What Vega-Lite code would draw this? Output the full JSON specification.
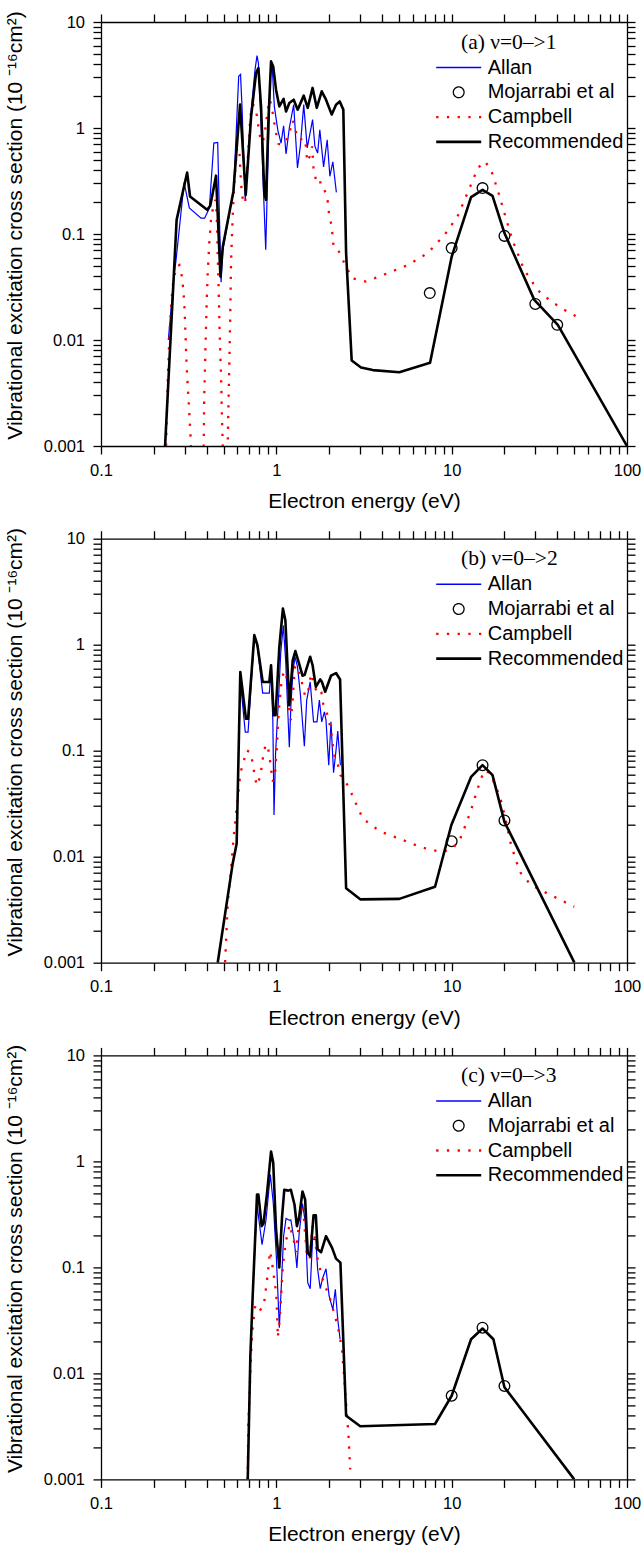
{
  "$schema": "https://vega.github.io/schema/vega-lite/v6.json",
  "background": "white",
  "padding": {"left": 4, "top": 10, "right": 0, "bottom": 0},
  "config": {
    "font": "Liberation Sans",
    "view": {"stroke": null},
    "axis": {"grid": false, "domainColor": "black", "domainWidth": 1.3, "tickColor": "black", "tickWidth": 1.3, "tickSize": 8, "labelColor": "black", "labelFont": "Liberation Sans", "labelFontSize": 16.5, "titleFont": "Liberation Sans", "titleFontSize": 21, "titleFontWeight": "normal", "titleColor": "black", "labelOverlap": false, "labelFlush": false, "labelBound": false},
    "legend": {"orient": "none", "legendX": 347.7, "legendY": 9.5, "padding": 0, "offset": 0, "titleFont": "Liberation Serif", "titleFontSize": 21.5, "titleFontWeight": "normal", "titleColor": "black", "titlePadding": 4.5, "titleLimit": 400, "labelFont": "Liberation Sans", "labelFontSize": 20, "labelColor": "black", "labelLimit": 400, "labelOffset": 19, "rowPadding": 4.8, "symbolSize": 2025}
  },
  "resolve": {"scale": {"color": "independent"}, "legend": {"color": "independent"}},
  "spacing": 92.7,
  "bounds": "flush",
  "datasets": {
    "a": [
      {"s":"Allan","E":0.242,"v":0.01},{"s":"Allan","E":0.262,"v":0.043},{"s":"Allan","E":0.268,"v":0.057},{"s":"Allan","E":0.298,"v":0.306},{"s":"Allan","E":0.319,"v":0.176},{"s":"Allan","E":0.372,"v":0.141},{"s":"Allan","E":0.39,"v":0.141},{"s":"Allan","E":0.415,"v":0.176},{"s":"Allan","E":0.44,"v":0.72},{"s":"Allan","E":0.463,"v":0.73},{"s":"Allan","E":0.473,"v":0.157},{"s":"Allan","E":0.484,"v":0.035},{"s":"Allan","E":0.495,"v":0.07},{"s":"Allan","E":0.571,"v":0.26},{"s":"Allan","E":0.61,"v":3.07},{"s":"Allan","E":0.625,"v":3.2},{"s":"Allan","E":0.637,"v":1.6},{"s":"Allan","E":0.665,"v":0.21},{"s":"Allan","E":0.717,"v":1.39},{"s":"Allan","E":0.756,"v":3.55},{"s":"Allan","E":0.776,"v":4.82},{"s":"Allan","E":0.79,"v":4.1},{"s":"Allan","E":0.818,"v":1.11},{"s":"Allan","E":0.847,"v":0.226},{"s":"Allan","E":0.87,"v":0.071},{"s":"Allan","E":0.893,"v":0.38},{"s":"Allan","E":0.924,"v":3.07},{"s":"Allan","E":0.945,"v":4.1},{"s":"Allan","E":0.974,"v":1.6},{"s":"Allan","E":1.02,"v":0.95},{"s":"Allan","E":1.064,"v":0.72},{"s":"Allan","E":1.1,"v":1.05},{"s":"Allan","E":1.136,"v":0.57},{"s":"Allan","E":1.186,"v":1.0},{"s":"Allan","E":1.256,"v":1.66},{"s":"Allan","E":1.32,"v":0.42},{"s":"Allan","E":1.37,"v":0.67},{"s":"Allan","E":1.433,"v":1.66},{"s":"Allan","E":1.5,"v":0.65},{"s":"Allan","E":1.61,"v":1.2},{"s":"Allan","E":1.66,"v":0.67},{"s":"Allan","E":1.72,"v":0.58},{"s":"Allan","E":1.77,"v":0.96},{"s":"Allan","E":1.86,"v":0.43},{"s":"Allan","E":1.95,"v":0.775},{"s":"Allan","E":2.02,"v":0.35},{"s":"Allan","E":2.1,"v":0.48},{"s":"Allan","E":2.2,"v":0.247},
      {"s":"Mojarrabi et al","E":7.5,"v":0.0277},{"s":"Mojarrabi et al","E":10,"v":0.0736},{"s":"Mojarrabi et al","E":15,"v":0.271},{"s":"Mojarrabi et al","E":20,"v":0.096},{"s":"Mojarrabi et al","E":30,"v":0.0219},{"s":"Mojarrabi et al","E":40,"v":0.0139},
      {"s":"Campbell","E":0.232,"v":0.0005},{"s":"Campbell","E":0.235,"v":0.001},{"s":"Campbell","E":0.24,"v":0.0039},{"s":"Campbell","E":0.245,"v":0.01},{"s":"Campbell","E":0.25,"v":0.019},{"s":"Campbell","E":0.256,"v":0.032},{"s":"Campbell","E":0.268,"v":0.049},{"s":"Campbell","E":0.28,"v":0.051},{"s":"Campbell","E":0.289,"v":0.04},{"s":"Campbell","E":0.295,"v":0.0297},{"s":"Campbell","E":0.3,"v":0.019},{"s":"Campbell","E":0.303,"v":0.0116},{"s":"Campbell","E":0.308,"v":0.0056},{"s":"Campbell","E":0.315,"v":0.0029},{"s":"Campbell","E":0.323,"v":0.0014},{"s":"Campbell","E":0.326,"v":0.001},{"s":"Campbell","E":0.33,"v":0.0005},{"s":"Campbell","E":0.38,"v":0.0005},{"s":"Campbell","E":0.385,"v":0.001},{"s":"Campbell","E":0.388,"v":0.0029},{"s":"Campbell","E":0.394,"v":0.0081},{"s":"Campbell","E":0.4,"v":0.0207},{"s":"Campbell","E":0.406,"v":0.043},{"s":"Campbell","E":0.415,"v":0.085},{"s":"Campbell","E":0.424,"v":0.136},{"s":"Campbell","E":0.437,"v":0.182},{"s":"Campbell","E":0.449,"v":0.21},{"s":"Campbell","E":0.457,"v":0.157},{"s":"Campbell","E":0.463,"v":0.066},{"s":"Campbell","E":0.469,"v":0.0297},{"s":"Campbell","E":0.475,"v":0.0116},{"s":"Campbell","E":0.484,"v":0.0045},{"s":"Campbell","E":0.49,"v":0.0018},{"s":"Campbell","E":0.495,"v":0.001},{"s":"Campbell","E":0.5,"v":0.0005},{"s":"Campbell","E":0.52,"v":0.0005},{"s":"Campbell","E":0.528,"v":0.001},{"s":"Campbell","E":0.532,"v":0.002},{"s":"Campbell","E":0.54,"v":0.0065},{"s":"Campbell","E":0.547,"v":0.0207},{"s":"Campbell","E":0.551,"v":0.049},{"s":"Campbell","E":0.559,"v":0.102},{"s":"Campbell","E":0.569,"v":0.21},{"s":"Campbell","E":0.581,"v":0.376},{"s":"Campbell","E":0.597,"v":0.65},{"s":"Campbell","E":0.615,"v":0.64},{"s":"Campbell","E":0.623,"v":0.4},{"s":"Campbell","E":0.635,"v":0.243},{"s":"Campbell","E":0.652,"v":0.193},{"s":"Campbell","E":0.665,"v":0.2},{"s":"Campbell","E":0.68,"v":0.376},{"s":"Campbell","E":0.696,"v":0.72},{"s":"Campbell","E":0.711,"v":1.29},{"s":"Campbell","E":0.733,"v":1.66},{"s":"Campbell","E":0.756,"v":1.6},{"s":"Campbell","E":0.776,"v":1.29},{"s":"Campbell","E":0.79,"v":1.03},{"s":"Campbell","E":0.81,"v":0.805},{"s":"Campbell","E":0.837,"v":0.73},{"s":"Campbell","E":0.862,"v":0.93},{"s":"Campbell","E":0.893,"v":1.49},{"s":"Campbell","E":0.917,"v":1.85},{"s":"Campbell","E":0.94,"v":1.6},{"s":"Campbell","E":0.974,"v":1.11},{"s":"Campbell","E":1.005,"v":0.83},{"s":"Campbell","E":1.027,"v":0.71},{"s":"Campbell","E":1.07,"v":0.69},{"s":"Campbell","E":1.136,"v":0.75},{"s":"Campbell","E":1.186,"v":0.9},{"s":"Campbell","E":1.24,"v":1.18},{"s":"Campbell","E":1.28,"v":0.99},{"s":"Campbell","E":1.32,"v":0.79},{"s":"Campbell","E":1.38,"v":0.78},{"s":"Campbell","E":1.46,"v":0.79},{"s":"Campbell","E":1.5,"v":0.48},{"s":"Campbell","E":1.55,"v":0.54},{"s":"Campbell","E":1.6,"v":0.67},{"s":"Campbell","E":1.63,"v":0.42},{"s":"Campbell","E":1.68,"v":0.325},{"s":"Campbell","E":1.76,"v":0.34},{"s":"Campbell","E":1.81,"v":0.27},{"s":"Campbell","E":1.88,"v":0.26},{"s":"Campbell","E":1.95,"v":0.226},{"s":"Campbell","E":2.0,"v":0.152},{"s":"Campbell","E":2.07,"v":0.118},{"s":"Campbell","E":2.12,"v":0.076},{"s":"Campbell","E":2.24,"v":0.072},{"s":"Campbell","E":2.5,"v":0.049},{"s":"Campbell","E":2.73,"v":0.038},{"s":"Campbell","E":3.25,"v":0.0356},{"s":"Campbell","E":4.32,"v":0.0427},{"s":"Campbell","E":5.62,"v":0.051},{"s":"Campbell","E":7.3,"v":0.066},{"s":"Campbell","E":9.1,"v":0.098},{"s":"Campbell","E":10.8,"v":0.146},{"s":"Campbell","E":12.3,"v":0.243},{"s":"Campbell","E":14.1,"v":0.419},{"s":"Campbell","E":15.5,"v":0.484},{"s":"Campbell","E":16.8,"v":0.4},{"s":"Campbell","E":18.3,"v":0.26},{"s":"Campbell","E":20,"v":0.157},{"s":"Campbell","E":22.2,"v":0.088},{"s":"Campbell","E":25.9,"v":0.046},{"s":"Campbell","E":30.9,"v":0.0296},{"s":"Campbell","E":36.8,"v":0.0232},{"s":"Campbell","E":43.8,"v":0.0193},{"s":"Campbell","E":51.3,"v":0.0167},
      {"s":"Recommended","E":0.232,"v":0.001},{"s":"Recommended","E":0.27,"v":0.136},{"s":"Recommended","E":0.31,"v":0.38},{"s":"Recommended","E":0.322,"v":0.226},{"s":"Recommended","E":0.403,"v":0.169},{"s":"Recommended","E":0.42,"v":0.185},{"s":"Recommended","E":0.453,"v":0.355},{"s":"Recommended","E":0.48,"v":0.0397},{"s":"Recommended","E":0.495,"v":0.076},{"s":"Recommended","E":0.569,"v":0.252},{"s":"Recommended","E":0.607,"v":1.03},{"s":"Recommended","E":0.621,"v":1.66},{"s":"Recommended","E":0.669,"v":0.234},{"s":"Recommended","E":0.718,"v":1.29},{"s":"Recommended","E":0.766,"v":3.3},{"s":"Recommended","E":0.79,"v":3.68},{"s":"Recommended","E":0.818,"v":1.6},{"s":"Recommended","E":0.854,"v":0.243},{"s":"Recommended","E":0.873,"v":0.21},{"s":"Recommended","E":0.9,"v":1.11},{"s":"Recommended","E":0.933,"v":4.25},{"s":"Recommended","E":0.96,"v":3.8},{"s":"Recommended","E":0.996,"v":2.3},{"s":"Recommended","E":1.04,"v":1.6},{"s":"Recommended","E":1.1,"v":1.88},{"s":"Recommended","E":1.136,"v":1.43},{"s":"Recommended","E":1.186,"v":1.72},{"s":"Recommended","E":1.256,"v":1.85},{"s":"Recommended","E":1.324,"v":1.49},{"s":"Recommended","E":1.433,"v":2.02},{"s":"Recommended","E":1.51,"v":1.55},{"s":"Recommended","E":1.61,"v":2.39},{"s":"Recommended","E":1.7,"v":1.55},{"s":"Recommended","E":1.815,"v":2.22},{"s":"Recommended","E":1.92,"v":1.85},{"s":"Recommended","E":2.07,"v":1.34},{"s":"Recommended","E":2.19,"v":1.66},{"s":"Recommended","E":2.3,"v":1.78},{"s":"Recommended","E":2.41,"v":1.49},{"s":"Recommended","E":2.5,"v":0.066},{"s":"Recommended","E":2.69,"v":0.0064},{"s":"Recommended","E":3.04,"v":0.0055},{"s":"Recommended","E":3.55,"v":0.0052},{"s":"Recommended","E":5.03,"v":0.00497},{"s":"Recommended","E":7.53,"v":0.0061},{"s":"Recommended","E":10,"v":0.061},{"s":"Recommended","E":12.9,"v":0.223},{"s":"Recommended","E":15,"v":0.261},{"s":"Recommended","E":17.1,"v":0.229},{"s":"Recommended","E":20,"v":0.102},{"s":"Recommended","E":29.6,"v":0.0239},{"s":"Recommended","E":40.3,"v":0.0139},{"s":"Recommended","E":100,"v":0.001}
    ],
    "b": [
      {"s":"Allan","E":0.62,"v":0.5},{"s":"Allan","E":0.665,"v":0.15},{"s":"Allan","E":0.69,"v":0.15},{"s":"Allan","E":0.749,"v":1.2},{"s":"Allan","E":0.78,"v":0.95},{"s":"Allan","E":0.836,"v":0.35},{"s":"Allan","E":0.912,"v":0.35},{"s":"Allan","E":0.933,"v":0.57},{"s":"Allan","E":0.955,"v":0.194},{"s":"Allan","E":0.97,"v":0.0247},{"s":"Allan","E":0.99,"v":0.094},{"s":"Allan","E":1.03,"v":0.32},{"s":"Allan","E":1.06,"v":0.85},{"s":"Allan","E":1.096,"v":1.52},{"s":"Allan","E":1.13,"v":0.71},{"s":"Allan","E":1.186,"v":0.108},{"s":"Allan","E":1.21,"v":0.259},{"s":"Allan","E":1.24,"v":0.53},{"s":"Allan","E":1.278,"v":0.77},{"s":"Allan","E":1.32,"v":0.62},{"s":"Allan","E":1.37,"v":0.346},{"s":"Allan","E":1.445,"v":0.11},{"s":"Allan","E":1.49,"v":0.3},{"s":"Allan","E":1.56,"v":0.445},{"s":"Allan","E":1.63,"v":0.187},{"s":"Allan","E":1.706,"v":0.187},{"s":"Allan","E":1.76,"v":0.3},{"s":"Allan","E":1.815,"v":0.187},{"s":"Allan","E":1.88,"v":0.232},{"s":"Allan","E":1.92,"v":0.194},{"s":"Allan","E":1.99,"v":0.073},{"s":"Allan","E":2.05,"v":0.187},{"s":"Allan","E":2.12,"v":0.062},{"s":"Allan","E":2.19,"v":0.101},{"s":"Allan","E":2.24,"v":0.153},{"s":"Allan","E":2.32,"v":0.073},
      {"s":"Mojarrabi et al","E":10,"v":0.014},{"s":"Mojarrabi et al","E":15,"v":0.073},{"s":"Mojarrabi et al","E":20,"v":0.022},
      {"s":"Campbell","E":0.505,"v":0.0008},{"s":"Campbell","E":0.51,"v":0.001},{"s":"Campbell","E":0.528,"v":0.0036},{"s":"Campbell","E":0.551,"v":0.0075},{"s":"Campbell","E":0.571,"v":0.0154},{"s":"Campbell","E":0.589,"v":0.0256},{"s":"Campbell","E":0.607,"v":0.0395},{"s":"Campbell","E":0.623,"v":0.061},{"s":"Campbell","E":0.652,"v":0.08},{"s":"Campbell","E":0.678,"v":0.101},{"s":"Campbell","E":0.711,"v":0.096},{"s":"Campbell","E":0.733,"v":0.077},{"s":"Campbell","E":0.75,"v":0.06},{"s":"Campbell","E":0.773,"v":0.047},{"s":"Campbell","E":0.81,"v":0.057},{"s":"Campbell","E":0.843,"v":0.091},{"s":"Campbell","E":0.87,"v":0.115},{"s":"Campbell","E":0.9,"v":0.103},{"s":"Campbell","E":0.92,"v":0.081},{"s":"Campbell","E":0.953,"v":0.051},{"s":"Campbell","E":0.983,"v":0.061},{"s":"Campbell","E":1.005,"v":0.101},{"s":"Campbell","E":1.03,"v":0.223},{"s":"Campbell","E":1.064,"v":0.414},{"s":"Campbell","E":1.09,"v":0.52},{"s":"Campbell","E":1.126,"v":0.565},{"s":"Campbell","E":1.16,"v":0.43},{"s":"Campbell","E":1.18,"v":0.259},{"s":"Campbell","E":1.21,"v":0.194},{"s":"Campbell","E":1.24,"v":0.31},{"s":"Campbell","E":1.27,"v":0.57},{"s":"Campbell","E":1.284,"v":0.64},{"s":"Campbell","E":1.37,"v":0.51},{"s":"Campbell","E":1.41,"v":0.414},{"s":"Campbell","E":1.46,"v":0.327},{"s":"Campbell","E":1.51,"v":0.346},{"s":"Campbell","E":1.58,"v":0.533},{"s":"Campbell","E":1.65,"v":0.414},{"s":"Campbell","E":1.72,"v":0.334},{"s":"Campbell","E":1.81,"v":0.35},{"s":"Campbell","E":1.85,"v":0.278},{"s":"Campbell","E":1.88,"v":0.26},{"s":"Campbell","E":1.96,"v":0.216},{"s":"Campbell","E":2.05,"v":0.156},{"s":"Campbell","E":2.12,"v":0.101},{"s":"Campbell","E":2.17,"v":0.081},{"s":"Campbell","E":2.24,"v":0.075},{"s":"Campbell","E":2.32,"v":0.0587},{"s":"Campbell","E":2.39,"v":0.0566},{"s":"Campbell","E":2.61,"v":0.044},{"s":"Campbell","E":2.79,"v":0.034},{"s":"Campbell","E":3.11,"v":0.023},{"s":"Campbell","E":3.47,"v":0.0199},{"s":"Campbell","E":3.95,"v":0.0172},{"s":"Campbell","E":5.14,"v":0.0146},{"s":"Campbell","E":5.85,"v":0.0134},{"s":"Campbell","E":6.7,"v":0.0123},{"s":"Campbell","E":7.63,"v":0.0116},{"s":"Campbell","E":8.89,"v":0.0111},{"s":"Campbell","E":10.1,"v":0.0119},{"s":"Campbell","E":11.1,"v":0.0143},{"s":"Campbell","E":11.8,"v":0.0185},{"s":"Campbell","E":12.9,"v":0.0275},{"s":"Campbell","E":13.8,"v":0.0395},{"s":"Campbell","E":14.7,"v":0.0547},{"s":"Campbell","E":15.5,"v":0.0655},{"s":"Campbell","E":16.5,"v":0.061},{"s":"Campbell","E":17.9,"v":0.0456},{"s":"Campbell","E":19.1,"v":0.034},{"s":"Campbell","E":20.3,"v":0.0226},{"s":"Campbell","E":21.6,"v":0.0138},{"s":"Campbell","E":23.2,"v":0.0093},{"s":"Campbell","E":24.8,"v":0.007},{"s":"Campbell","E":28.4,"v":0.0054},{"s":"Campbell","E":33.6,"v":0.00467},{"s":"Campbell","E":41.9,"v":0.0039},{"s":"Campbell","E":50,"v":0.00337},
      {"s":"Recommended","E":0.463,"v":0.001},{"s":"Recommended","E":0.564,"v":0.00865},{"s":"Recommended","E":0.594,"v":0.0133},{"s":"Recommended","E":0.623,"v":0.553},{"s":"Recommended","E":0.671,"v":0.2},{"s":"Recommended","E":0.69,"v":0.2},{"s":"Recommended","E":0.749,"v":1.23},{"s":"Recommended","E":0.78,"v":0.99},{"s":"Recommended","E":0.836,"v":0.445},{"s":"Recommended","E":0.912,"v":0.445},{"s":"Recommended","E":0.933,"v":0.64},{"s":"Recommended","E":0.966,"v":0.216},{"s":"Recommended","E":0.99,"v":0.216},{"s":"Recommended","E":1.04,"v":0.95},{"s":"Recommended","E":1.09,"v":2.19},{"s":"Recommended","E":1.126,"v":1.7},{"s":"Recommended","E":1.186,"v":0.268},{"s":"Recommended","E":1.24,"v":0.71},{"s":"Recommended","E":1.284,"v":0.87},{"s":"Recommended","E":1.35,"v":0.66},{"s":"Recommended","E":1.41,"v":0.51},{"s":"Recommended","E":1.45,"v":0.52},{"s":"Recommended","E":1.56,"v":0.77},{"s":"Recommended","E":1.61,"v":0.64},{"s":"Recommended","E":1.68,"v":0.4},{"s":"Recommended","E":1.78,"v":0.47},{"s":"Recommended","E":1.82,"v":0.445},{"s":"Recommended","E":1.9,"v":0.36},{"s":"Recommended","E":2.05,"v":0.51},{"s":"Recommended","E":2.19,"v":0.54},{"s":"Recommended","E":2.31,"v":0.47},{"s":"Recommended","E":2.5,"v":0.00503},{"s":"Recommended","E":3.01,"v":0.00396},{"s":"Recommended","E":5.03,"v":0.004},{"s":"Recommended","E":8.04,"v":0.00521},{"s":"Recommended","E":9.96,"v":0.0199},{"s":"Recommended","E":12.9,"v":0.0566},{"s":"Recommended","E":15,"v":0.073},{"s":"Recommended","E":17.1,"v":0.0588},{"s":"Recommended","E":20,"v":0.0213},{"s":"Recommended","E":50.1,"v":0.001}
    ],
    "c": [
      {"s":"Allan","E":0.74,"v":0.08},{"s":"Allan","E":0.776,"v":0.39},{"s":"Allan","E":0.829,"v":0.164},{"s":"Allan","E":0.873,"v":0.28},{"s":"Allan","E":0.924,"v":0.75},{"s":"Allan","E":0.96,"v":0.41},{"s":"Allan","E":1.0,"v":0.128},{"s":"Allan","E":1.04,"v":0.027},{"s":"Allan","E":1.07,"v":0.072},{"s":"Allan","E":1.1,"v":0.197},{"s":"Allan","E":1.136,"v":0.29},{"s":"Allan","E":1.186,"v":0.279},{"s":"Allan","E":1.21,"v":0.28},{"s":"Allan","E":1.27,"v":0.171},{"s":"Allan","E":1.31,"v":0.099},{"s":"Allan","E":1.35,"v":0.212},{"s":"Allan","E":1.41,"v":0.4},{"s":"Allan","E":1.46,"v":0.273},{"s":"Allan","E":1.51,"v":0.0718},{"s":"Allan","E":1.56,"v":0.063},{"s":"Allan","E":1.61,"v":0.186},{"s":"Allan","E":1.68,"v":0.183},{"s":"Allan","E":1.72,"v":0.096},{"s":"Allan","E":1.78,"v":0.063},{"s":"Allan","E":1.84,"v":0.08},{"s":"Allan","E":1.92,"v":0.097},{"s":"Allan","E":2.0,"v":0.054},{"s":"Allan","E":2.1,"v":0.04},{"s":"Allan","E":2.17,"v":0.062},{"s":"Allan","E":2.24,"v":0.0324},{"s":"Allan","E":2.31,"v":0.021},
      {"s":"Mojarrabi et al","E":10,"v":0.00615},{"s":"Mojarrabi et al","E":15,"v":0.027},{"s":"Mojarrabi et al","E":20,"v":0.0076},
      {"s":"Campbell","E":0.687,"v":0.001},{"s":"Campbell","E":0.692,"v":0.0032},{"s":"Campbell","E":0.705,"v":0.0071},{"s":"Campbell","E":0.717,"v":0.0146},{"s":"Campbell","E":0.727,"v":0.0226},{"s":"Campbell","E":0.736,"v":0.029},{"s":"Campbell","E":0.749,"v":0.036},{"s":"Campbell","E":0.759,"v":0.0449},{"s":"Campbell","E":0.81,"v":0.04},{"s":"Campbell","E":0.847,"v":0.0427},{"s":"Campbell","E":0.862,"v":0.054},{"s":"Campbell","E":0.893,"v":0.086},{"s":"Campbell","E":0.92,"v":0.142},{"s":"Campbell","E":0.94,"v":0.119},{"s":"Campbell","E":0.961,"v":0.09},{"s":"Campbell","E":1.0,"v":0.0557},{"s":"Campbell","E":1.02,"v":0.0218},{"s":"Campbell","E":1.04,"v":0.03},{"s":"Campbell","E":1.054,"v":0.039},{"s":"Campbell","E":1.07,"v":0.064},{"s":"Campbell","E":1.09,"v":0.103},{"s":"Campbell","E":1.13,"v":0.171},{"s":"Campbell","E":1.19,"v":0.254},{"s":"Campbell","E":1.256,"v":0.18},{"s":"Campbell","E":1.295,"v":0.139},{"s":"Campbell","E":1.36,"v":0.304},{"s":"Campbell","E":1.396,"v":0.39},{"s":"Campbell","E":1.42,"v":0.39},{"s":"Campbell","E":1.445,"v":0.254},{"s":"Campbell","E":1.5,"v":0.121},{"s":"Campbell","E":1.55,"v":0.121},{"s":"Campbell","E":1.61,"v":0.245},{"s":"Campbell","E":1.65,"v":0.197},{"s":"Campbell","E":1.72,"v":0.119},{"s":"Campbell","E":1.84,"v":0.077},{"s":"Campbell","E":2.03,"v":0.05},{"s":"Campbell","E":2.24,"v":0.028},{"s":"Campbell","E":2.37,"v":0.0169},{"s":"Campbell","E":2.45,"v":0.0082},{"s":"Campbell","E":2.52,"v":0.0043},{"s":"Campbell","E":2.58,"v":0.0026},{"s":"Campbell","E":2.62,"v":0.00156},{"s":"Campbell","E":2.64,"v":0.00124},
      {"s":"Recommended","E":0.687,"v":0.001},{"s":"Recommended","E":0.711,"v":0.0146},{"s":"Recommended","E":0.733,"v":0.0537},{"s":"Recommended","E":0.776,"v":0.486},{"s":"Recommended","E":0.79,"v":0.486},{"s":"Recommended","E":0.825,"v":0.245},{"s":"Recommended","E":0.845,"v":0.26},{"s":"Recommended","E":0.885,"v":0.5},{"s":"Recommended","E":0.933,"v":1.24},{"s":"Recommended","E":0.96,"v":0.97},{"s":"Recommended","E":0.996,"v":0.228},{"s":"Recommended","E":1.04,"v":0.1},{"s":"Recommended","E":1.078,"v":0.3},{"s":"Recommended","E":1.11,"v":0.54},{"s":"Recommended","E":1.17,"v":0.53},{"s":"Recommended","E":1.21,"v":0.54},{"s":"Recommended","E":1.27,"v":0.39},{"s":"Recommended","E":1.31,"v":0.245},{"s":"Recommended","E":1.35,"v":0.3},{"s":"Recommended","E":1.41,"v":0.52},{"s":"Recommended","E":1.46,"v":0.436},{"s":"Recommended","E":1.51,"v":0.137},{"s":"Recommended","E":1.56,"v":0.128},{"s":"Recommended","E":1.63,"v":0.31},{"s":"Recommended","E":1.68,"v":0.31},{"s":"Recommended","E":1.72,"v":0.148},{"s":"Recommended","E":1.8,"v":0.139},{"s":"Recommended","E":1.92,"v":0.197},{"s":"Recommended","E":2.08,"v":0.153},{"s":"Recommended","E":2.19,"v":0.121},{"s":"Recommended","E":2.32,"v":0.111},{"s":"Recommended","E":2.5,"v":0.00399},{"s":"Recommended","E":3.01,"v":0.00317},{"s":"Recommended","E":8.04,"v":0.00333},{"s":"Recommended","E":10,"v":0.00615},{"s":"Recommended","E":12.9,"v":0.021},{"s":"Recommended","E":15,"v":0.0265},{"s":"Recommended","E":17.3,"v":0.021},{"s":"Recommended","E":20,"v":0.0074},{"s":"Recommended","E":50,"v":0.001}
    ]
  },
  "vconcat": [
    {
      "width": 526, "height": 424,
      "data": {"name": "a"},
      "resolve": {"axis": {"x": "independent", "y": "independent"}},
      "layer": [
        {
          "transform": [{"filter": "datum.s === 'Allan'"}],
          "mark": {"type": "line", "strokeWidth": 1.2, "clip": true},
          "encoding": {
            "x": {"field": "E", "type": "quantitative", "scale": {"type": "log", "domain": [0.1, 100], "nice": false},
              "axis": {"orient": "bottom", "title": "Electron energy (eV)", "titleY": 61.3, "titleBaseline": "alphabetic", "labelPadding": 8,
                "values": [0.1,0.2,0.3,0.4,0.5,0.6,0.7,0.8,0.9,1,2,3,4,5,6,7,8,9,10,20,30,40,50,60,70,80,90,100],
                "labelExpr": "abs(log(datum.value)/LN10 - round(log(datum.value)/LN10)) < 0.000001 ? format(datum.value, '~g') : ''",
                "encode": {"ticks": {"update": {"y2": {"signal": "abs(log(datum.value)/LN10 - round(log(datum.value)/LN10)) < 0.000001 ? 8 : 4.5"}}}}}},
            "y": {"field": "v", "type": "quantitative", "scale": {"type": "log", "domain": [0.001, 10], "nice": false},
              "axis": {"orient": "left", "title": "Vibrational excitation cross section (10 ⁻¹⁶cm²)", "titleX": -79.5, "titleY": 203, "titleBaseline": "alphabetic", "titleAngle": 270, "labelPadding": 8.5,
                "values": [0.001,0.002,0.003,0.004,0.005,0.006,0.007,0.008,0.009,0.01,0.02,0.03,0.04,0.05,0.06,0.07,0.08,0.09,0.1,0.2,0.3,0.4,0.5,0.6,0.7,0.8,0.9,1,2,3,4,5,6,7,8,9,10],
                "labelExpr": "abs(log(datum.value)/LN10 - round(log(datum.value)/LN10)) < 0.000001 ? format(datum.value, '~g') : ''",
                "encode": {"ticks": {"update": {"x2": {"signal": "abs(log(datum.value)/LN10 - round(log(datum.value)/LN10)) < 0.000001 ? -8 : -4.5"}}}}}},
            "color": {"field": "s", "type": "nominal",
              "scale": {"domain": ["Allan", "Mojarrabi et al", "Campbell", "Recommended"], "range": ["#0000ff", "#000000", "#ff0000", "#000000"]},
              "legend": {"title": "(a) ν=0–>1",
                "encode": {
                  "title": {"update": {"dx": {"value": 12.3}}},
                  "symbols": {"update": {
                  "shape": {"signal": "datum.value === 'Mojarrabi et al' ? 'circle' : 'stroke'"},
                  "size": {"signal": "datum.value === 'Mojarrabi et al' ? 115 : 2025"},
                  "stroke": {"signal": "datum.value === 'Allan' ? '#0000ff' : datum.value === 'Campbell' ? '#ff0000' : '#000000'"},
                  "strokeWidth": {"signal": "datum.value === 'Recommended' ? 2.6 : datum.value === 'Campbell' ? 2.3 : datum.value === 'Allan' ? 1.5 : 1.3"},
                  "strokeDash": {"signal": "datum.value === 'Campbell' ? [2.3, 8.4] : [1, 0]"},
                  "fill": {"value": "transparent"},
                  "opacity": {"value": 1}}}}}}
          }
        },
        {
          "transform": [{"filter": "datum.s === 'Mojarrabi et al'"}],
          "mark": {"type": "point", "filled": false, "size": 115, "strokeWidth": 1.3, "opacity": 1},
          "encoding": {
            "x": {"field": "E", "type": "quantitative", "axis": {"orient": "top", "labels": false, "title": null, "values": [0.1,0.2,0.3,0.4,0.5,0.6,0.7,0.8,0.9,1,2,3,4,5,6,7,8,9,10,20,30,40,50,60,70,80,90,100], "encode": {"ticks": {"update": {"y2": {"signal": "abs(log(datum.value)/LN10 - round(log(datum.value)/LN10)) < 0.000001 ? 8 : 4.5"}}}}}},
            "y": {"field": "v", "type": "quantitative", "axis": {"orient": "right", "labels": false, "title": null, "values": [0.001,0.002,0.003,0.004,0.005,0.006,0.007,0.008,0.009,0.01,0.02,0.03,0.04,0.05,0.06,0.07,0.08,0.09,0.1,0.2,0.3,0.4,0.5,0.6,0.7,0.8,0.9,1,2,3,4,5,6,7,8,9,10], "encode": {"ticks": {"update": {"x2": {"signal": "abs(log(datum.value)/LN10 - round(log(datum.value)/LN10)) < 0.000001 ? -8 : -4.5"}}}}}},
            "color": {"field": "s", "type": "nominal"}
          }
        },
        {
          "transform": [{"filter": "datum.s === 'Campbell'"}],
          "mark": {"type": "line", "strokeWidth": 2.3, "strokeDash": [2.3, 8.4], "clip": true},
          "encoding": {
            "x": {"field": "E", "type": "quantitative", "axis": null},
            "y": {"field": "v", "type": "quantitative", "axis": null},
            "color": {"field": "s", "type": "nominal"}
          }
        },
        {
          "transform": [{"filter": "datum.s === 'Recommended'"}],
          "mark": {"type": "line", "strokeWidth": 2.6, "clip": true, "strokeJoin": "round"},
          "encoding": {
            "x": {"field": "E", "type": "quantitative", "axis": null},
            "y": {"field": "v", "type": "quantitative", "axis": null},
            "color": {"field": "s", "type": "nominal"}
          }
        }
      ]
    },
    {
      "width": 526, "height": 424,
      "data": {"name": "b"},
      "resolve": {"axis": {"x": "independent", "y": "independent"}},
      "layer": [
        {
          "transform": [{"filter": "datum.s === 'Allan'"}],
          "mark": {"type": "line", "strokeWidth": 1.2, "clip": true},
          "encoding": {
            "x": {"field": "E", "type": "quantitative", "scale": {"type": "log", "domain": [0.1, 100], "nice": false},
              "axis": {"orient": "bottom", "title": "Electron energy (eV)", "titleY": 61.3, "titleBaseline": "alphabetic", "labelPadding": 8,
                "values": [0.1,0.2,0.3,0.4,0.5,0.6,0.7,0.8,0.9,1,2,3,4,5,6,7,8,9,10,20,30,40,50,60,70,80,90,100],
                "labelExpr": "abs(log(datum.value)/LN10 - round(log(datum.value)/LN10)) < 0.000001 ? format(datum.value, '~g') : ''",
                "encode": {"ticks": {"update": {"y2": {"signal": "abs(log(datum.value)/LN10 - round(log(datum.value)/LN10)) < 0.000001 ? 8 : 4.5"}}}}}},
            "y": {"field": "v", "type": "quantitative", "scale": {"type": "log", "domain": [0.001, 10], "nice": false},
              "axis": {"orient": "left", "title": "Vibrational excitation cross section (10 ⁻¹⁶cm²)", "titleX": -79.5, "titleY": 203, "titleBaseline": "alphabetic", "titleAngle": 270, "labelPadding": 8.5,
                "values": [0.001,0.002,0.003,0.004,0.005,0.006,0.007,0.008,0.009,0.01,0.02,0.03,0.04,0.05,0.06,0.07,0.08,0.09,0.1,0.2,0.3,0.4,0.5,0.6,0.7,0.8,0.9,1,2,3,4,5,6,7,8,9,10],
                "labelExpr": "abs(log(datum.value)/LN10 - round(log(datum.value)/LN10)) < 0.000001 ? format(datum.value, '~g') : ''",
                "encode": {"ticks": {"update": {"x2": {"signal": "abs(log(datum.value)/LN10 - round(log(datum.value)/LN10)) < 0.000001 ? -8 : -4.5"}}}}}},
            "color": {"field": "s", "type": "nominal",
              "scale": {"domain": ["Allan", "Mojarrabi et al", "Campbell", "Recommended"], "range": ["#0000ff", "#000000", "#ff0000", "#000000"]},
              "legend": {"title": "(b) ν=0–>2",
                "encode": {
                  "title": {"update": {"dx": {"value": 12.3}}},
                  "symbols": {"update": {
                  "shape": {"signal": "datum.value === 'Mojarrabi et al' ? 'circle' : 'stroke'"},
                  "size": {"signal": "datum.value === 'Mojarrabi et al' ? 115 : 2025"},
                  "stroke": {"signal": "datum.value === 'Allan' ? '#0000ff' : datum.value === 'Campbell' ? '#ff0000' : '#000000'"},
                  "strokeWidth": {"signal": "datum.value === 'Recommended' ? 2.6 : datum.value === 'Campbell' ? 2.3 : datum.value === 'Allan' ? 1.5 : 1.3"},
                  "strokeDash": {"signal": "datum.value === 'Campbell' ? [2.3, 8.4] : [1, 0]"},
                  "fill": {"value": "transparent"},
                  "opacity": {"value": 1}}}}}}
          }
        },
        {
          "transform": [{"filter": "datum.s === 'Mojarrabi et al'"}],
          "mark": {"type": "point", "filled": false, "size": 115, "strokeWidth": 1.3, "opacity": 1},
          "encoding": {
            "x": {"field": "E", "type": "quantitative", "axis": {"orient": "top", "labels": false, "title": null, "values": [0.1,0.2,0.3,0.4,0.5,0.6,0.7,0.8,0.9,1,2,3,4,5,6,7,8,9,10,20,30,40,50,60,70,80,90,100], "encode": {"ticks": {"update": {"y2": {"signal": "abs(log(datum.value)/LN10 - round(log(datum.value)/LN10)) < 0.000001 ? 8 : 4.5"}}}}}},
            "y": {"field": "v", "type": "quantitative", "axis": {"orient": "right", "labels": false, "title": null, "values": [0.001,0.002,0.003,0.004,0.005,0.006,0.007,0.008,0.009,0.01,0.02,0.03,0.04,0.05,0.06,0.07,0.08,0.09,0.1,0.2,0.3,0.4,0.5,0.6,0.7,0.8,0.9,1,2,3,4,5,6,7,8,9,10], "encode": {"ticks": {"update": {"x2": {"signal": "abs(log(datum.value)/LN10 - round(log(datum.value)/LN10)) < 0.000001 ? -8 : -4.5"}}}}}},
            "color": {"field": "s", "type": "nominal"}
          }
        },
        {
          "transform": [{"filter": "datum.s === 'Campbell'"}],
          "mark": {"type": "line", "strokeWidth": 2.3, "strokeDash": [2.3, 8.4], "clip": true},
          "encoding": {
            "x": {"field": "E", "type": "quantitative", "axis": null},
            "y": {"field": "v", "type": "quantitative", "axis": null},
            "color": {"field": "s", "type": "nominal"}
          }
        },
        {
          "transform": [{"filter": "datum.s === 'Recommended'"}],
          "mark": {"type": "line", "strokeWidth": 2.6, "clip": true, "strokeJoin": "round"},
          "encoding": {
            "x": {"field": "E", "type": "quantitative", "axis": null},
            "y": {"field": "v", "type": "quantitative", "axis": null},
            "color": {"field": "s", "type": "nominal"}
          }
        }
      ]
    },
    {
      "width": 526, "height": 424,
      "data": {"name": "c"},
      "resolve": {"axis": {"x": "independent", "y": "independent"}},
      "layer": [
        {
          "transform": [{"filter": "datum.s === 'Allan'"}],
          "mark": {"type": "line", "strokeWidth": 1.2, "clip": true},
          "encoding": {
            "x": {"field": "E", "type": "quantitative", "scale": {"type": "log", "domain": [0.1, 100], "nice": false},
              "axis": {"orient": "bottom", "title": "Electron energy (eV)", "titleY": 61.3, "titleBaseline": "alphabetic", "labelPadding": 8,
                "values": [0.1,0.2,0.3,0.4,0.5,0.6,0.7,0.8,0.9,1,2,3,4,5,6,7,8,9,10,20,30,40,50,60,70,80,90,100],
                "labelExpr": "abs(log(datum.value)/LN10 - round(log(datum.value)/LN10)) < 0.000001 ? format(datum.value, '~g') : ''",
                "encode": {"ticks": {"update": {"y2": {"signal": "abs(log(datum.value)/LN10 - round(log(datum.value)/LN10)) < 0.000001 ? 8 : 4.5"}}}}}},
            "y": {"field": "v", "type": "quantitative", "scale": {"type": "log", "domain": [0.001, 10], "nice": false},
              "axis": {"orient": "left", "title": "Vibrational excitation cross section (10 ⁻¹⁶cm²)", "titleX": -79.5, "titleY": 203, "titleBaseline": "alphabetic", "titleAngle": 270, "labelPadding": 8.5,
                "values": [0.001,0.002,0.003,0.004,0.005,0.006,0.007,0.008,0.009,0.01,0.02,0.03,0.04,0.05,0.06,0.07,0.08,0.09,0.1,0.2,0.3,0.4,0.5,0.6,0.7,0.8,0.9,1,2,3,4,5,6,7,8,9,10],
                "labelExpr": "abs(log(datum.value)/LN10 - round(log(datum.value)/LN10)) < 0.000001 ? format(datum.value, '~g') : ''",
                "encode": {"ticks": {"update": {"x2": {"signal": "abs(log(datum.value)/LN10 - round(log(datum.value)/LN10)) < 0.000001 ? -8 : -4.5"}}}}}},
            "color": {"field": "s", "type": "nominal",
              "scale": {"domain": ["Allan", "Mojarrabi et al", "Campbell", "Recommended"], "range": ["#0000ff", "#000000", "#ff0000", "#000000"]},
              "legend": {"title": "(c) ν=0–>3",
                "encode": {
                  "title": {"update": {"dx": {"value": 12.3}}},
                  "symbols": {"update": {
                  "shape": {"signal": "datum.value === 'Mojarrabi et al' ? 'circle' : 'stroke'"},
                  "size": {"signal": "datum.value === 'Mojarrabi et al' ? 115 : 2025"},
                  "stroke": {"signal": "datum.value === 'Allan' ? '#0000ff' : datum.value === 'Campbell' ? '#ff0000' : '#000000'"},
                  "strokeWidth": {"signal": "datum.value === 'Recommended' ? 2.6 : datum.value === 'Campbell' ? 2.3 : datum.value === 'Allan' ? 1.5 : 1.3"},
                  "strokeDash": {"signal": "datum.value === 'Campbell' ? [2.3, 8.4] : [1, 0]"},
                  "fill": {"value": "transparent"},
                  "opacity": {"value": 1}}}}}}
          }
        },
        {
          "transform": [{"filter": "datum.s === 'Mojarrabi et al'"}],
          "mark": {"type": "point", "filled": false, "size": 115, "strokeWidth": 1.3, "opacity": 1},
          "encoding": {
            "x": {"field": "E", "type": "quantitative", "axis": {"orient": "top", "labels": false, "title": null, "values": [0.1,0.2,0.3,0.4,0.5,0.6,0.7,0.8,0.9,1,2,3,4,5,6,7,8,9,10,20,30,40,50,60,70,80,90,100], "encode": {"ticks": {"update": {"y2": {"signal": "abs(log(datum.value)/LN10 - round(log(datum.value)/LN10)) < 0.000001 ? 8 : 4.5"}}}}}},
            "y": {"field": "v", "type": "quantitative", "axis": {"orient": "right", "labels": false, "title": null, "values": [0.001,0.002,0.003,0.004,0.005,0.006,0.007,0.008,0.009,0.01,0.02,0.03,0.04,0.05,0.06,0.07,0.08,0.09,0.1,0.2,0.3,0.4,0.5,0.6,0.7,0.8,0.9,1,2,3,4,5,6,7,8,9,10], "encode": {"ticks": {"update": {"x2": {"signal": "abs(log(datum.value)/LN10 - round(log(datum.value)/LN10)) < 0.000001 ? -8 : -4.5"}}}}}},
            "color": {"field": "s", "type": "nominal"}
          }
        },
        {
          "transform": [{"filter": "datum.s === 'Campbell'"}],
          "mark": {"type": "line", "strokeWidth": 2.3, "strokeDash": [2.3, 8.4], "clip": true},
          "encoding": {
            "x": {"field": "E", "type": "quantitative", "axis": null},
            "y": {"field": "v", "type": "quantitative", "axis": null},
            "color": {"field": "s", "type": "nominal"}
          }
        },
        {
          "transform": [{"filter": "datum.s === 'Recommended'"}],
          "mark": {"type": "line", "strokeWidth": 2.6, "clip": true, "strokeJoin": "round"},
          "encoding": {
            "x": {"field": "E", "type": "quantitative", "axis": null},
            "y": {"field": "v", "type": "quantitative", "axis": null},
            "color": {"field": "s", "type": "nominal"}
          }
        }
      ]
    }
  ]
}
